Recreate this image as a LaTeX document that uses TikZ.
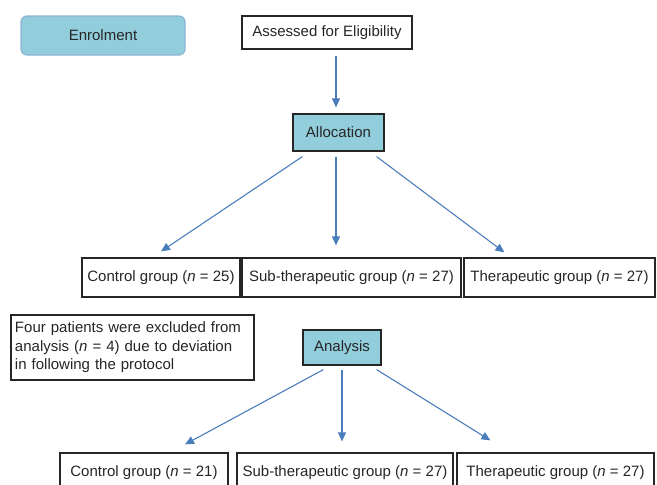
\documentclass[tikz,border=0pt]{standalone}
\usepackage{fontspec}
\setmainfont{Liberation Sans}
\usetikzlibrary{arrows.meta}
\definecolor{stageblue}{HTML}{92CDDC}
\definecolor{edgeblue}{HTML}{8DB4D6}
\definecolor{flowblue}{HTML}{4A7EBB}
\definecolor{textgray}{HTML}{262626}

\tikzset{
  box/.style={draw=black!85, line width=1.2pt, text=textgray, inner sep=0pt, minimum height=39pt},
  stage/.style={box, fill=stageblue},
  flow/.style={draw=flowblue, line width=1.1pt, -{Triangle[length=9pt,width=8pt]}},
}

\begin{document}
\begin{tikzpicture}[x=1pt, y=-1pt, font=\fontsize{15}{18.6}\selectfont]
    \useasboundingbox (0,0) rectangle (657,485);

    % 1. Enrolment and allocation
    \node[stage, draw=edgeblue, rounded corners=6pt, minimum width=164pt] (enrol) at (103,35.5) {Enrolment};
    \node[box, minimum width=170pt, minimum height=33pt] (elig) at (327,32.5) {Assessed for Eligibility};
    \node[stage, minimum width=91pt, minimum height=37pt] (alloc) at (338.5,132.5) {Allocation};

    % 2. Allocated groups
    \node[box, minimum width=158pt] (ctrlA) at (161,277.5) {Control group (\textit{n} = 25)};
    \node[box, minimum width=219pt] (subA) at (351.5,277.5) {Sub-therapeutic group (\textit{n} = 27)};
    \node[box, minimum width=191pt] (therA) at (559.5,277.5) {Therapeutic group (\textit{n} = 27)};

    % 3. Exclusions and analysis
    \node[box, align=left, text width=235pt, minimum height=65pt, inner sep=4pt] (excl) at (132.5,347.5)
        {Four patients were excluded from\\analysis (\textit{n} = 4) due to deviation\\in following the protocol};
    \node[stage, minimum width=78pt, minimum height=35pt] (analysis) at (342,347.5) {Analysis};

    % 4. Analysed groups (bottom edges run off the page)
    \node[box, minimum width=168pt] (ctrlB) at (144,472.5) {Control group (\textit{n} = 21)};
    \node[box, minimum width=216pt] (subB) at (345,472.5) {Sub-therapeutic group (\textit{n} = 27)};
    \node[box, minimum width=197pt] (therB) at (555.5,472.5) {Therapeutic group (\textit{n} = 27)};

    % Arrows
    \draw[flow] ([xshift=9pt,yshift=-6pt]elig.south) -- ([xshift=-2.5pt,yshift=6pt]alloc.north);

    \draw[flow] ([xshift=10pt,yshift=-5pt]alloc.south west) -- ([yshift=6pt]ctrlA.north);
    \draw[flow] ([xshift=-2.5pt,yshift=-5pt]alloc.south) -- ([xshift=-15.5pt,yshift=12pt]subA.north);
    \draw[flow] ([xshift=-8pt,yshift=-5pt]alloc.south east) -- ([xshift=41pt,yshift=5pt]therA.north west);

    \draw[flow] ([xshift=21pt,yshift=-4pt]analysis.south west) -- ([xshift=41pt,yshift=8pt]ctrlB.north);
    \draw[flow] ([yshift=-4pt]analysis.south) -- ([xshift=-3pt,yshift=11pt]subB.north);
    \draw[flow] ([xshift=-5pt,yshift=-4pt]analysis.south east) -- ([xshift=34pt,yshift=12pt]therB.north west);

\end{tikzpicture}
\end{document}
